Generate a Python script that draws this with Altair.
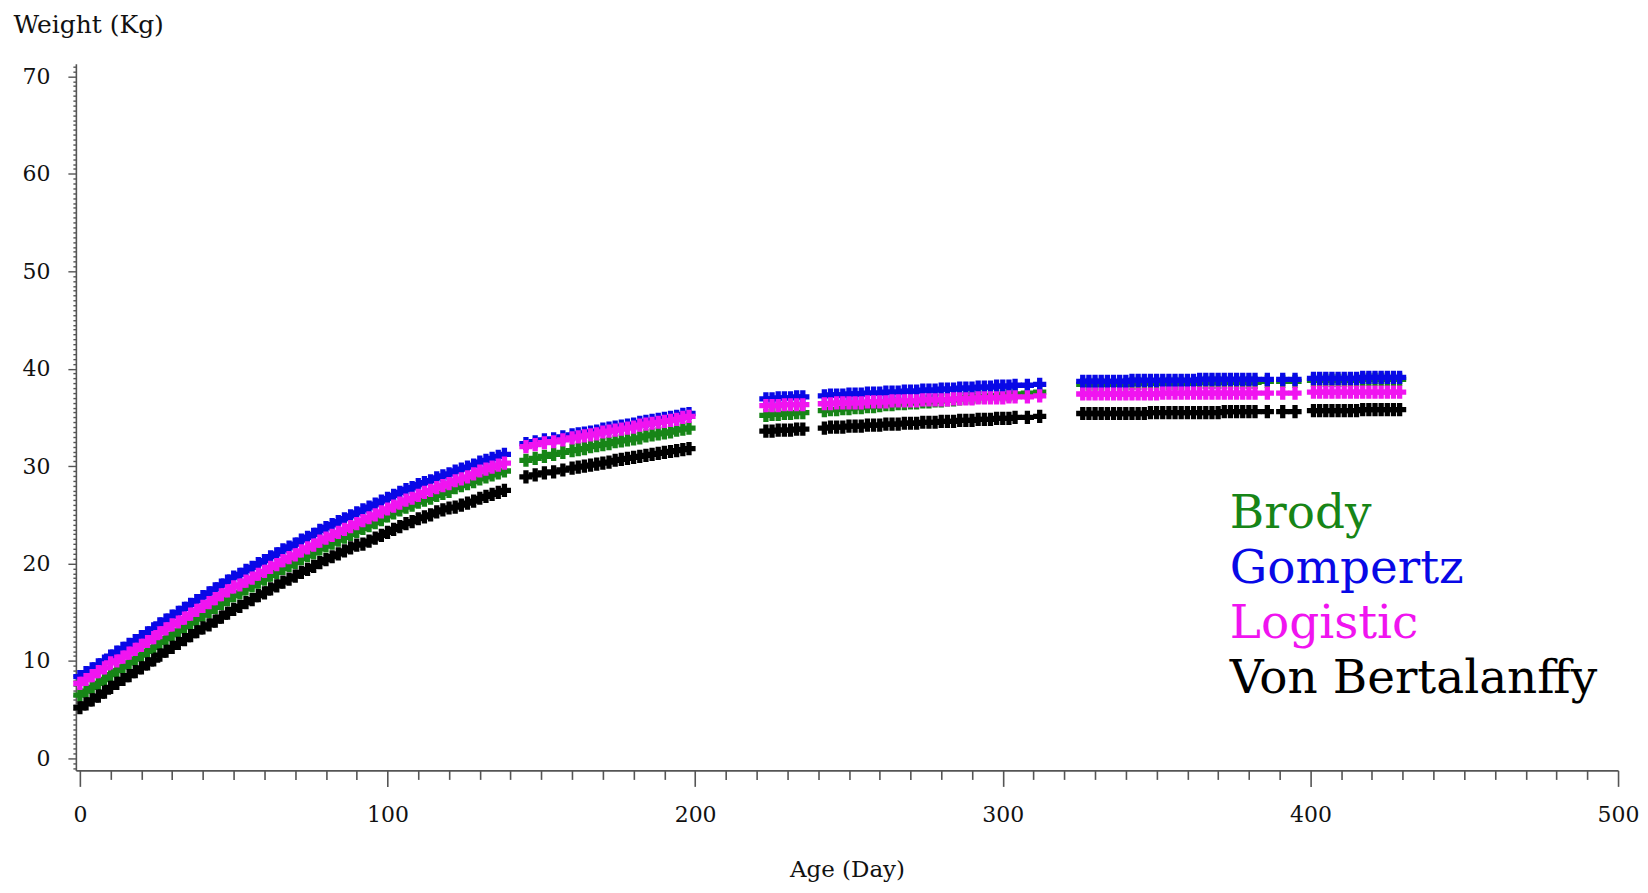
import altair as alt
import pandas as pd

# ---- data -----------------------------------------------------------------
AGES = [
    0, 2, 4, 6, 8, 10, 12, 14, 16, 18, 20, 22, 24, 26, 28, 30, 32, 34, 36, 38,
    40, 42, 44, 46, 48, 50, 52, 54, 56, 58, 60, 62, 64, 66, 68, 70, 72, 74, 76, 78,
    80, 82, 84, 86, 88, 90, 92, 94, 96, 98, 100, 102, 104, 106, 108, 110, 112, 114, 116, 118,
    120, 122, 124, 126, 128, 130, 132, 134, 136, 138,
    145, 148, 151, 154, 157, 160, 162, 164, 166, 168, 170, 172, 174, 176, 178, 180, 182, 184, 186, 188,
    190, 192, 194, 196, 198,
    223, 225, 227, 229, 231, 233, 235, 242, 244, 246, 248, 250, 252, 254, 256, 258, 260, 262, 264, 266,
    268, 270, 272, 274, 276, 278, 280, 282, 284, 286, 288, 290, 292, 294, 296, 298, 300, 302, 304, 308, 312,
    326, 328, 330, 332, 334, 336, 338, 340, 342, 344, 346, 348, 350, 352, 354, 356, 358, 360, 362, 364,
    366, 368, 370, 372, 374, 376, 378, 380, 382, 386, 391, 395,
    401, 403, 405, 407, 409, 411, 413, 415, 417, 419, 421, 423, 425, 427, 429,
]

GOMPERTZ = [
    8.4, 8.8, 9.2, 9.6, 10.0, 10.5, 10.9, 11.3, 11.7, 12.1, 12.5, 12.9, 13.3, 13.8, 14.2, 14.6, 15.0, 15.4, 15.8, 16.2,
    16.6, 17.0, 17.4, 17.8, 18.2, 18.6, 18.9, 19.3, 19.6, 20.0, 20.3, 20.7, 21.0, 21.4, 21.7, 22.0, 22.4, 22.7, 23.0, 23.4,
    23.7, 24.0, 24.3, 24.6, 24.9, 25.2, 25.5, 25.8, 26.1, 26.4, 26.7, 27.0, 27.3, 27.6, 27.8, 28.1, 28.3, 28.5, 28.8, 29.0,
    29.2, 29.5, 29.7, 29.9, 30.1, 30.4, 30.6, 30.8, 31.0, 31.2,
    32.3, 32.5, 32.7, 32.8, 33.0, 33.2, 33.3, 33.4, 33.5, 33.6, 33.8, 33.9, 34.0, 34.1, 34.2, 34.3, 34.5, 34.6, 34.7, 34.8,
    34.9, 35.0, 35.1, 35.3, 35.4,
    36.9, 36.9, 37.0, 37.0, 37.0, 37.1, 37.1, 37.2, 37.3, 37.3, 37.3, 37.4, 37.4, 37.4, 37.5, 37.5, 37.5, 37.6, 37.6, 37.6,
    37.7, 37.7, 37.7, 37.8, 37.8, 37.8, 37.9, 37.9, 37.9, 38.0, 38.0, 38.0, 38.1, 38.1, 38.1, 38.2, 38.2, 38.2, 38.3, 38.3, 38.4,
    38.7, 38.7, 38.7, 38.7, 38.7, 38.7, 38.7, 38.7, 38.8, 38.8, 38.8, 38.8, 38.8, 38.8, 38.8, 38.8, 38.8, 38.8, 38.8, 38.9,
    38.9, 38.9, 38.9, 38.9, 38.9, 38.9, 38.9, 38.9, 38.9, 38.9, 38.9, 38.9,
    39.0, 39.0, 39.0, 39.0, 39.0, 39.0, 39.0, 39.0, 39.1, 39.1, 39.1, 39.1, 39.1, 39.1, 39.1,
]

LOGISTIC = [
    7.7, 8.1, 8.5, 8.9, 9.3, 9.8, 10.0, 10.4, 10.8, 11.2, 11.6, 12.0, 12.4, 12.9, 13.3, 13.7, 14.0, 14.4, 14.8, 15.2,
    15.6, 16.0, 16.4, 16.8, 17.2, 17.6, 17.8, 18.2, 18.5, 18.9, 19.2, 19.6, 19.9, 20.3, 20.6, 20.9, 21.3, 21.6, 21.9, 22.3,
    22.6, 22.9, 23.2, 23.5, 23.8, 24.1, 24.4, 24.7, 25.0, 25.3, 25.6, 25.9, 26.2, 26.5, 26.7, 27.0, 27.3, 27.5, 27.8, 28.0,
    28.2, 28.5, 28.7, 28.9, 29.2, 29.5, 29.7, 29.9, 30.1, 30.3,
    32.0, 32.2, 32.4, 32.5, 32.7, 32.9, 33.0, 33.1, 33.2, 33.3, 33.5, 33.6, 33.7, 33.8, 33.9, 34.0, 34.2, 34.3, 34.4, 34.5,
    34.6, 34.7, 34.8, 35.0, 35.1,
    36.2, 36.2, 36.2, 36.3, 36.3, 36.3, 36.3, 36.4, 36.4, 36.5, 36.5, 36.5, 36.5, 36.5, 36.6, 36.6, 36.6, 36.6, 36.7, 36.7,
    36.7, 36.7, 36.7, 36.8, 36.8, 36.8, 36.8, 36.8, 36.9, 36.9, 36.9, 36.9, 37.0, 37.0, 37.0, 37.0, 37.0, 37.1, 37.1, 37.1, 37.2,
    37.4, 37.4, 37.4, 37.4, 37.4, 37.4, 37.4, 37.4, 37.4, 37.4, 37.4, 37.4, 37.4, 37.5, 37.5, 37.5, 37.5, 37.5, 37.5, 37.5,
    37.5, 37.5, 37.5, 37.5, 37.5, 37.5, 37.5, 37.5, 37.5, 37.5, 37.5, 37.5,
    37.6, 37.6, 37.6, 37.6, 37.6, 37.6, 37.6, 37.6, 37.6, 37.6, 37.6, 37.6, 37.6, 37.6, 37.6,
]

BRODY = [
    6.5, 6.9, 7.3, 7.7, 8.1, 8.6, 9.0, 9.4, 9.8, 10.2, 10.6, 11.0, 11.4, 11.9, 12.3, 12.7, 13.1, 13.5, 13.9, 14.3,
    14.7, 15.1, 15.5, 15.9, 16.3, 16.7, 17.0, 17.4, 17.7, 18.1, 18.4, 18.8, 19.1, 19.5, 19.8, 20.1, 20.5, 20.8, 21.1, 21.5,
    21.8, 22.1, 22.4, 22.7, 23.0, 23.3, 23.6, 23.9, 24.2, 24.5, 24.9, 25.2, 25.5, 25.8, 26.0, 26.3, 26.5, 26.7, 27.0, 27.2,
    27.4, 27.8, 28.0, 28.2, 28.4, 28.7, 28.9, 29.1, 29.3, 29.5,
    30.6, 30.8, 31.0, 31.2, 31.4, 31.6, 31.7, 31.8, 32.0, 32.1, 32.2, 32.3, 32.5, 32.6, 32.7, 32.8, 32.9, 33.1, 33.2, 33.3,
    33.4, 33.5, 33.7, 33.8, 33.9,
    35.2, 35.3, 35.3, 35.4, 35.4, 35.5, 35.5, 35.7, 35.8, 35.8, 35.9, 35.9, 36.0, 36.0, 36.1, 36.1, 36.2, 36.3, 36.3, 36.4,
    36.4, 36.5, 36.5, 36.6, 36.6, 36.7, 36.7, 36.8, 36.8, 36.9, 37.0, 37.0, 37.1, 37.1, 37.2, 37.2, 37.3, 37.3, 37.4, 37.5, 37.6,
    38.4, 38.4, 38.4, 38.4, 38.4, 38.4, 38.4, 38.4, 38.5, 38.5, 38.5, 38.5, 38.5, 38.5, 38.5, 38.5, 38.5, 38.5, 38.5, 38.6,
    38.6, 38.6, 38.6, 38.6, 38.6, 38.6, 38.6, 38.6, 38.6, 38.7, 38.7, 38.7,
    38.8, 38.8, 38.8, 38.8, 38.8, 38.8, 38.8, 38.8, 38.9, 38.9, 38.9, 38.9, 38.9, 38.9, 38.9,
]

VON_BERTALANFFY = [
    5.2, 5.6, 6.0, 6.4, 6.8, 7.3, 7.7, 8.1, 8.5, 8.9, 9.3, 9.7, 10.1, 10.6, 11.0, 11.4, 11.8, 12.2, 12.6, 13.0,
    13.4, 13.7, 14.1, 14.5, 14.9, 15.3, 15.6, 16.0, 16.3, 16.7, 17.0, 17.4, 17.7, 18.1, 18.4, 18.7, 19.1, 19.4, 19.7, 20.1,
    20.4, 20.7, 21.0, 21.3, 21.6, 21.9, 22.0, 22.3, 22.6, 22.9, 23.2, 23.5, 23.8, 24.1, 24.3, 24.6, 24.8, 25.0, 25.3, 25.5,
    25.7, 25.8, 26.0, 26.2, 26.4, 26.7, 26.9, 27.1, 27.3, 27.5,
    28.9, 29.1, 29.3, 29.4, 29.6, 29.8, 29.9, 30.0, 30.1, 30.2, 30.3, 30.4, 30.6, 30.7, 30.8, 30.9, 31.0, 31.1, 31.2, 31.3,
    31.4, 31.5, 31.6, 31.7, 31.8,
    33.6, 33.6, 33.7, 33.7, 33.7, 33.8, 33.8, 33.9, 34.0, 34.0, 34.0, 34.1, 34.1, 34.1, 34.2, 34.2, 34.2, 34.3, 34.3, 34.3,
    34.4, 34.4, 34.4, 34.5, 34.5, 34.5, 34.6, 34.6, 34.6, 34.7, 34.7, 34.7, 34.8, 34.8, 34.8, 34.9, 34.9, 34.9, 35.0, 35.0, 35.1,
    35.4, 35.4, 35.4, 35.4, 35.4, 35.4, 35.4, 35.4, 35.4, 35.4, 35.4, 35.5, 35.5, 35.5, 35.5, 35.5, 35.5, 35.5, 35.5, 35.5,
    35.5, 35.5, 35.5, 35.6, 35.6, 35.6, 35.6, 35.6, 35.6, 35.6, 35.6, 35.6,
    35.7, 35.7, 35.7, 35.7, 35.7, 35.7, 35.7, 35.7, 35.8, 35.8, 35.8, 35.8, 35.8, 35.8, 35.8,
]

MODELS = ["Brody", "Gompertz", "Logistic", "Von Bertalanffy"]
COLORS = ["#178517", "#0808e6", "#f014f0", "#000000"]
DRAW_ORDER = ["Brody", "Von Bertalanffy", "Gompertz", "Logistic"]

X_TICKS = [0, 10, 20, 30, 40, 50, 60, 70, 80, 90, 100, 110, 120, 130, 140, 150, 160, 170, 180, 190,
           200, 210, 220, 230, 240, 250, 260, 270, 280, 290, 300, 310, 320, 330, 340, 350, 360, 370, 380, 390,
           400, 410, 420, 430, 440, 450, 460, 470, 480, 490, 500]
Y_TICKS = [i / 2 for i in range(-2, 143)]

series = {
    "Brody": BRODY,
    "Gompertz": GOMPERTZ,
    "Logistic": LOGISTIC,
    "Von Bertalanffy": VON_BERTALANFFY,
}

rows = []
for m in DRAW_ORDER:
    for a, w in zip(AGES, series[m]):
        rows.append({"age": a, "weight": w, "model": m})
df = pd.DataFrame(rows)

FONT = "DejaVu Serif"
AXIS_GREY = "#555555"

points = alt.Chart(df).mark_point(
    shape="cross",
    filled=True,
    size=175,
    opacity=1,
    strokeWidth=0,
).encode(
    x=alt.X(
        "age:Q",
        scale=alt.Scale(domain=[-1.3, 500], nice=False, zero=False),
        axis=alt.Axis(
            values=X_TICKS,
            labelExpr="datum.value % 100 === 0 ? format(datum.value, 'd') : ''",
            tickSize=alt.ExprRef(expr="datum.value % 100 === 0 ? 16 : 9"),
            labelPadding=18,
            labelFont=FONT,
            labelFontSize=22,
            labelColor="#111111",
            labelOverlap=False,
            labelFlush=False,
            domainColor=AXIS_GREY,
            domainWidth=1.6,
            tickColor=AXIS_GREY,
            tickWidth=1.6,
            grid=False,
            title="Age (Day)",
            titleFont=FONT,
            titleFontSize=23,
            titleFontWeight="normal",
            titleColor="#111111",
            titleBaseline="alphabetic",
            titleY=106,
        ),
    ),
    y=alt.Y(
        "weight:Q",
        scale=alt.Scale(domain=[-1.23, 71.3], nice=False, zero=False),
        axis=alt.Axis(
            values=Y_TICKS,
            labelExpr="datum.value % 10 === 0 ? format(datum.value, 'd') : ''",
            tickSize=alt.ExprRef(expr="datum.value % 10 === 0 ? 8 : 3"),
            labelPadding=18,
            labelFont=FONT,
            labelFontSize=22,
            labelColor="#111111",
            labelOverlap=False,
            labelFlush=False,
            domainColor=AXIS_GREY,
            domainWidth=1.6,
            tickColor=AXIS_GREY,
            tickWidth=1.4,
            grid=False,
            title="Weight (Kg)",
            titleFont=FONT,
            titleFontSize=25,
            titleFontWeight="normal",
            titleColor="#111111",
            titleAngle=0,
            titleAlign="left",
            titleBaseline="alphabetic",
            titleX=-63,
            titleY=-31,
        ),
    ),
    color=alt.Color(
        "model:N",
        scale=alt.Scale(domain=MODELS, range=COLORS),
        legend=alt.Legend(
            orient="none",
            legendX=1109,
            legendY=428,
            title=None,
            symbolSize=0,
            symbolOpacity=0,
            symbolStrokeWidth=0,
            labelOffset=0,
            labelFont=FONT,
            labelFontSize=47,
            labelLimit=0,
            rowPadding=7,
            padding=0,
            labelColor=alt.ExprRef(expr="scale('color', datum.value)"),
        ),
    ),
)

chart = points.properties(
    width=1545,
    height=708,
    autosize=alt.AutoSizeParams(type="none"),
    padding={"left": 68, "top": 55, "right": 22, "bottom": 116},
).configure(
    font=FONT,
    background="white",
).configure_view(
    stroke="transparent",
    strokeWidth=0,
)

chart.save("out.html", embed_options={"renderer": "svg", "actions": False})
